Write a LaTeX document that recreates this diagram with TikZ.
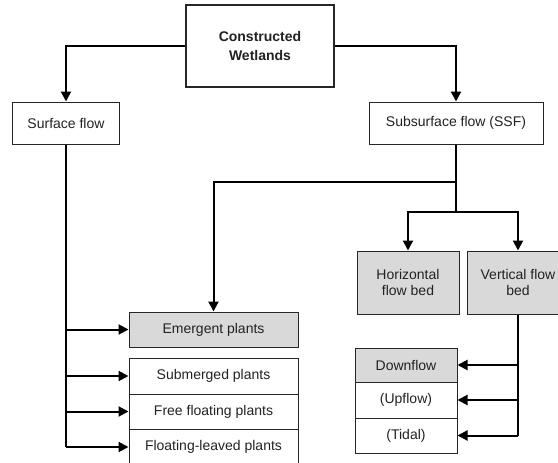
\documentclass[tikz,border=0pt]{standalone}
\usepackage{fontspec}
\setmainfont{Liberation Sans}
\usetikzlibrary{arrows.meta}
\definecolor{boxgray}{HTML}{D9D9D9}
\definecolor{txt}{HTML}{222222}

\begin{document}
\begin{tikzpicture}[x=1pt,y=-1pt,
        box/.style={draw=black!85,line width=1pt,inner sep=0pt,align=center,text=txt,
          font=\fontsize{14}{16.5}\selectfont},
        graybox/.style={box,fill=boxgray},
        conn/.style={line width=2pt},
        arr/.style={conn,-{Triangle[width=10pt,length=10pt]}}]
        \clip (0,0) rectangle (558,463);
        \fill[white] (0,0) rectangle (558,463);
        \node[box,line width=2pt,minimum width=148pt,minimum height=82pt,font=\fontsize{14}{19}\selectfont\bfseries] (cw) at (260,46) {Constructed\\Wetlands};
        \node[box,minimum width=107pt,minimum height=42pt] (sf) at (66,123) {Surface flow};
        \node[box,minimum width=174pt,minimum height=42pt] (ssf) at (456,123) {Subsurface flow (SSF)};
        \node[graybox,minimum width=102pt,minimum height=63pt] (hfb) at (408,282.5) {Horizontal\\flow bed};
        \node[graybox,minimum width=102pt,minimum height=63pt] (vfb) at (518,282.5) {Vertical flow\\bed};
        \node[graybox,minimum width=169pt,minimum height=35pt] (em) at (213.5,329.5) {Emergent plants};
        \node[box,minimum width=169pt,minimum height=36pt] (sub) at (213.5,376) {Submerged plants};
        \node[box,minimum width=169pt,minimum height=35pt] (free) at (213.5,411.5) {Free floating plants};
        \node[box,minimum width=169pt,minimum height=36pt] (fl) at (213.5,447) {Floating-leaved plants};
        \node[graybox,minimum width=102pt,minimum height=34pt] (down) at (406,365) {Downflow};
        \node[box,minimum width=102pt,minimum height=36pt] (up) at (406,400) {(Upflow)};
        \node[box,minimum width=102pt,minimum height=35pt] (tidal) at (406,435.5) {(Tidal)};
        \coordinate (j1) at (0,182);
        \coordinate (j2) at (0,212);
        \draw[arr] (cw.west) -| (sf.north);
        \draw[arr] (cw.east) -| (ssf.north);
        \draw[arr] (ssf.south) -- (ssf.south |- j1) -| (em.north);
        \draw[conn] (ssf.south |- j1) -- (ssf.south |- j2);
        \draw[arr] (ssf.south |- j2) -| (hfb.north);
        \draw[arr] (ssf.south |- j2) -| (vfb.north);
        \draw[conn] (sf.south) -- (sf.south |- fl.west);
        \foreach \n in {em,sub,free,fl}
          \draw[arr] (sf.south |- \n.west) -- (\n.west);
        \draw[conn] (vfb.south) -- (vfb.south |- tidal.east);
        \foreach \n in {down,up,tidal}
          \draw[arr] (vfb.south |- \n.east) -- (\n.east);
      \end{tikzpicture}
\end{document}
